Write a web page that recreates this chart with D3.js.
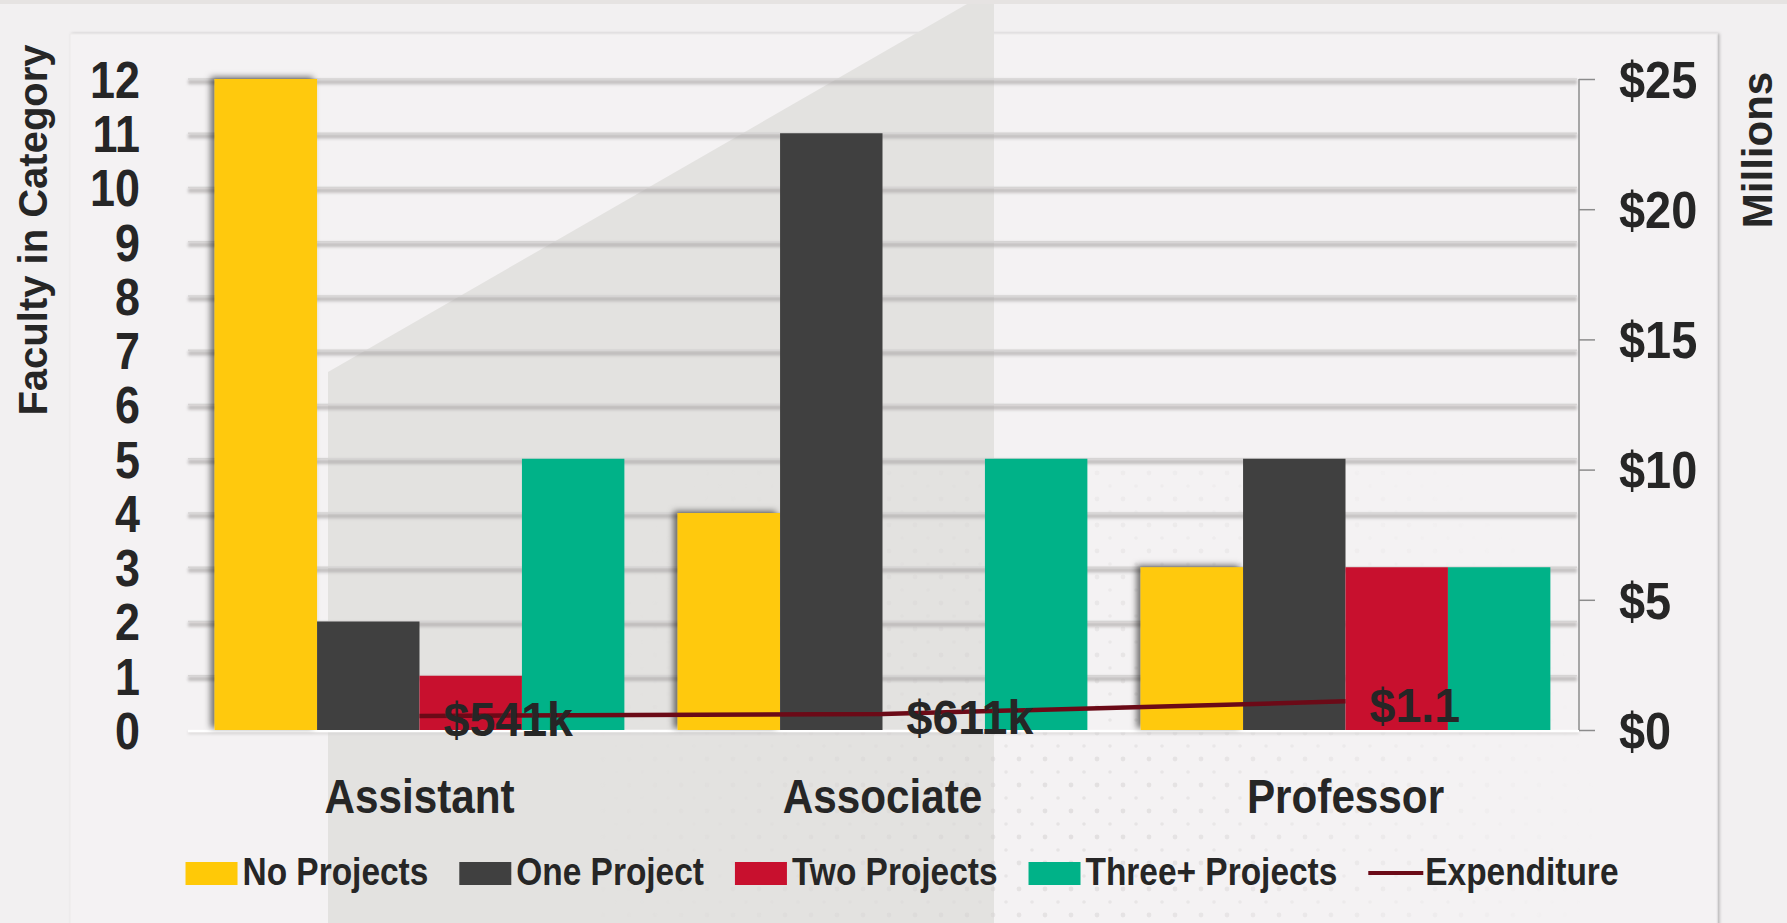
<!DOCTYPE html>
<meta charset="utf-8">
<style>
body{margin:0;background:#f2f0f1}
svg{display:block}
.cond{font-family:'Liberation Sans',Arial,sans-serif;font-weight:bold;fill:#262626}
.title{font-family:'Liberation Sans',Arial,sans-serif;font-weight:bold;fill:#262626}
</style>
<svg width="1787" height="923"></svg>
<script src="https://d3js.org/d3.v7.min.js"></script>
<script>

// chart data
var categories = ["Assistant", "Associate", "Professor"];
var seriesNames = ["No Projects", "One Project", "Two Projects", "Three+ Projects"];
var seriesColors = ["#ffc907", "#404040", "#c8102e", "#00b288"];
var noProjects = [12, 4, 3];
var oneProject = [2, 11, 5];
var twoProjects = [1, 0, 3];
var threeProjects = [5, 5, 3];
var expenditure = [0.541, 0.611, 1.1];      // millions of dollars
var expenditureLabels = ["$541k", "$611k", "$1.1"];
var leftTicks = [0, 1, 2, 3, 4, 5, 6, 7, 8, 9, 10, 11, 12];
var rightTicks = [0, 5, 10, 15, 20, 25];

var series = [noProjects, oneProject, twoProjects, threeProjects];

var svg = d3.select("svg"),
    width = +svg.attr("width"),
    height = +svg.attr("height");

var SX = 0.88;   // horizontal squeeze to fake a condensed face
function squeeze(px, py, s) {
  return "translate(" + px + "," + py + ") scale(" + (s || SX) + ",1)";
}

var plot = {left: 188, right: 1577, top: 79, bottom: 730};

var x = d3.scaleBand().domain(categories)
    .range([plot.left, plot.right])
    .paddingInner(0.115).paddingOuter(0.0575);
var xs = d3.scaleBand().domain(seriesNames).range([0, x.bandwidth()]);
var y = d3.scaleLinear().domain([0, 12]).range([plot.bottom, plot.top]);
var y2 = d3.scaleLinear().domain([0, 25]).range([plot.bottom, plot.top]);

var defs = svg.append("defs");
// user-space region so the blur works on flat horizontal lines
defs.append("filter").attr("id", "blur")
    .attr("filterUnits", "userSpaceOnUse")
    .attr("x", 0).attr("y", 0).attr("width", width).attr("height", height)
  .append("feGaussianBlur").attr("stdDeviation", 1.8);
var sh = defs.append("filter").attr("id", "barshadow")
    .attr("x", "-20%").attr("y", "-10%").attr("width", "140%").attr("height", "120%");
sh.append("feDropShadow").attr("dx", -4).attr("dy", -2).attr("stdDeviation", 3)
    .attr("flood-color", "#000").attr("flood-opacity", 0.55);
var cardShadow = defs.append("filter").attr("id", "cardshadow")
    .attr("x", "-5%").attr("y", "-5%").attr("width", "110%").attr("height", "110%");
cardShadow.append("feDropShadow").attr("dx", 2).attr("dy", 0).attr("stdDeviation", 1.5)
    .attr("flood-color", "#000").attr("flood-opacity", 0.25);

// dotted halftone pattern, faded out with a radial mask
var pat = defs.append("pattern").attr("id", "dots").attr("patternUnits", "userSpaceOnUse")
    .attr("width", 26).attr("height", 26);
pat.append("circle").attr("cx", 5).attr("cy", 5).attr("r", 2.4).attr("fill", "#d2cfcf");
pat.append("circle").attr("cx", 18).attr("cy", 18).attr("r", 1.8).attr("fill", "#d8d5d5");
var rg = defs.append("radialGradient").attr("id", "fade")
    .attr("gradientUnits", "userSpaceOnUse").attr("cx", 1080).attr("cy", 820).attr("r", 520);
rg.append("stop").attr("offset", "0%").attr("stop-color", "#fff").attr("stop-opacity", 0.9);
rg.append("stop").attr("offset", "100%").attr("stop-color", "#fff").attr("stop-opacity", 0);
defs.append("mask").attr("id", "dotmask")
  .append("rect").attr("width", width).attr("height", height).attr("fill", "url(#fade)");

// page + card background
svg.append("rect").attr("width", width).attr("height", height).attr("fill", "#f2f0f1");
svg.append("rect").attr("width", width).attr("height", 4).attr("fill", "#e6e3e2");
svg.append("rect")
    .attr("x", 70).attr("y", 34).attr("width", 1647).attr("height", 905)
    .attr("fill", "#f4f2f3").attr("stroke", "#ebe9ea")
    .attr("filter", "url(#cardshadow)");

// gray diagonal band behind the chart
svg.append("polygon")
    .attr("points", [[328, 923], [328, 372], [967, 4], [994, 4], [994, 923]].join(" "))
    .attr("fill", "#e3e2e0");

svg.append("rect").attr("x", 600).attr("y", 470).attr("width", 1115).attr("height", 453)
    .attr("fill", "url(#dots)").attr("mask", "url(#dotmask)").attr("opacity", 0.6);

// gridlines (soft, blurred)
var grid = svg.append("g").attr("class", "grid");
grid.selectAll("line.soft")
  .data(leftTicks.filter(function(d) { return d > 0; }))
  .enter().append("line").attr("class", "soft")
    .attr("x1", plot.left).attr("x2", plot.right)
    .attr("y1", function(d) { return y(d) + 3; })
    .attr("y2", function(d) { return y(d) + 3; })
    .attr("stroke", "#b0adad").attr("stroke-width", 4.5).attr("opacity", 0.75)
    .attr("filter", "url(#blur)");
grid.selectAll("line.hard")
  .data(leftTicks.filter(function(d) { return d > 0; }))
  .enter().append("line").attr("class", "hard")
    .attr("x1", plot.left).attr("x2", plot.right)
    .attr("y1", function(d) { return y(d); })
    .attr("y2", function(d) { return y(d); })
    .attr("stroke", "#d6d4d4").attr("stroke-width", 1.5);

// base line
svg.append("line")
    .attr("x1", plot.left).attr("x2", plot.right + 2)
    .attr("y1", plot.bottom + 3).attr("y2", plot.bottom + 3)
    .attr("stroke", "#d3d0d0").attr("stroke-width", 2).attr("filter", "url(#blur)");
svg.append("line")
    .attr("x1", plot.left).attr("x2", plot.right + 2)
    .attr("y1", plot.bottom + 1).attr("y2", plot.bottom + 1)
    .attr("stroke", "#ffffff").attr("stroke-width", 2.5);

// bars
var bars = svg.append("g").attr("class", "bars");
series.forEach(function(vals, si) {
  var g = bars.append("g").attr("fill", seriesColors[si]);
  if (si === 0) g.attr("filter", "url(#barshadow)");
  g.selectAll("rect")
    .data(vals)
    .enter().append("rect")
      .attr("x", function(d, i) { return x(categories[i]) + xs(seriesNames[si]); })
      .attr("width", xs.bandwidth())
      .attr("y", function(d) { return y(d); })
      .attr("height", function(d) { return y(0) - y(d); });
});

// right axis (millions)
var axisR = svg.append("g")
    .attr("transform", "translate(" + (plot.right + 2) + ",0)")
    .call(d3.axisRight(y2).tickValues(rightTicks).tickSize(16).tickFormat(function(d) { return "$" + d; }));
axisR.select(".domain").attr("stroke", "#8c8c8c").attr("stroke-width", 1.5)
    .attr("d", "M0," + y2(25) + "V" + y2(0));
axisR.selectAll(".tick line").attr("stroke", "#8c8c8c").attr("stroke-width", 1.5);
axisR.selectAll(".tick text").attr("class", "cond")
    .attr("x", null).attr("dy", "0.36em")
    .attr("transform", squeeze(40, 0, 0.92))
    .style("font-size", "51px").attr("fill", "#262626");

// left axis labels only
var axisL = svg.append("g")
    .attr("transform", "translate(140,0)")
    .call(d3.axisLeft(y).tickValues(leftTicks).tickSize(0));
axisL.select(".domain").remove();
axisL.selectAll(".tick text").attr("class", "cond")
    .attr("x", null).attr("dy", "0.36em")
    .attr("transform", squeeze(0, 0))
    .style("font-size", "51px").attr("fill", "#262626");

// expenditure line
var line = d3.line()
    .x(function(d, i) { return x(categories[i]) + x.bandwidth() / 2; })
    .y(function(d) { return y2(d); });
svg.append("path")
    .datum(expenditure)
    .attr("d", line)
    .attr("fill", "none")
    .attr("stroke", "#6b0a17")
    .attr("stroke-width", 4.5);

svg.append("g").selectAll("text")
  .data(expenditure)
  .enter().append("text")
    .attr("class", "cond")
    .attr("transform", function(d, i) {
      return squeeze(x(categories[i]) + x.bandwidth() / 2 + 24, y2(d), 0.97);
    })
    .attr("dy", "0.42em")
    .style("font-size", "48px")
    .text(function(d, i) { return expenditureLabels[i]; });

// category labels
svg.append("g").selectAll("text")
  .data(categories)
  .enter().append("text")
    .attr("class", "cond")
    .attr("transform", function(d) { return squeeze(x(d) + x.bandwidth() / 2, 813); })
    .attr("text-anchor", "middle")
    .style("font-size", "48px")
    .text(function(d) { return d; });

// axis titles
svg.append("text").attr("class", "title")
    .attr("transform", "translate(47,230) rotate(-90)")
    .attr("text-anchor", "middle")
    .style("font-size", "40px")
    .text("Faculty in Category");
svg.append("text").attr("class", "title")
    .attr("transform", "translate(1772,150) rotate(-90)")
    .attr("text-anchor", "middle")
    .style("font-size", "42px")
    .text("Millions");

// legend
var legendItems = seriesNames.map(function(n, i) { return {name: n, color: seriesColors[i], type: "rect"}; });
legendItems.push({name: "Expenditure", color: "#6b0a17", type: "line"});

var legend = svg.append("g").attr("class", "legend");
var lx = 0;
legendItems.forEach(function(it) {
  var g = legend.append("g").attr("transform", "translate(" + lx + ",0)");
  if (it.type === "rect") {
    g.append("rect").attr("x", 0).attr("y", 862).attr("width", 52).attr("height", 23).attr("fill", it.color);
  } else {
    g.append("line").attr("x1", 0).attr("x2", 55).attr("y1", 873).attr("y2", 873)
        .attr("stroke", it.color).attr("stroke-width", 4);
  }
  var t = g.append("text").attr("class", "cond")
      .attr("transform", squeeze(57, 885))
      .style("font-size", "38px")
      .text(it.name);
  lx += 57 + t.node().getComputedTextLength() * SX + 31;
});
var legendWidth = lx - 31;
legend.attr("transform", "translate(" + (902 - legendWidth / 2) + ",0)");

</script>
